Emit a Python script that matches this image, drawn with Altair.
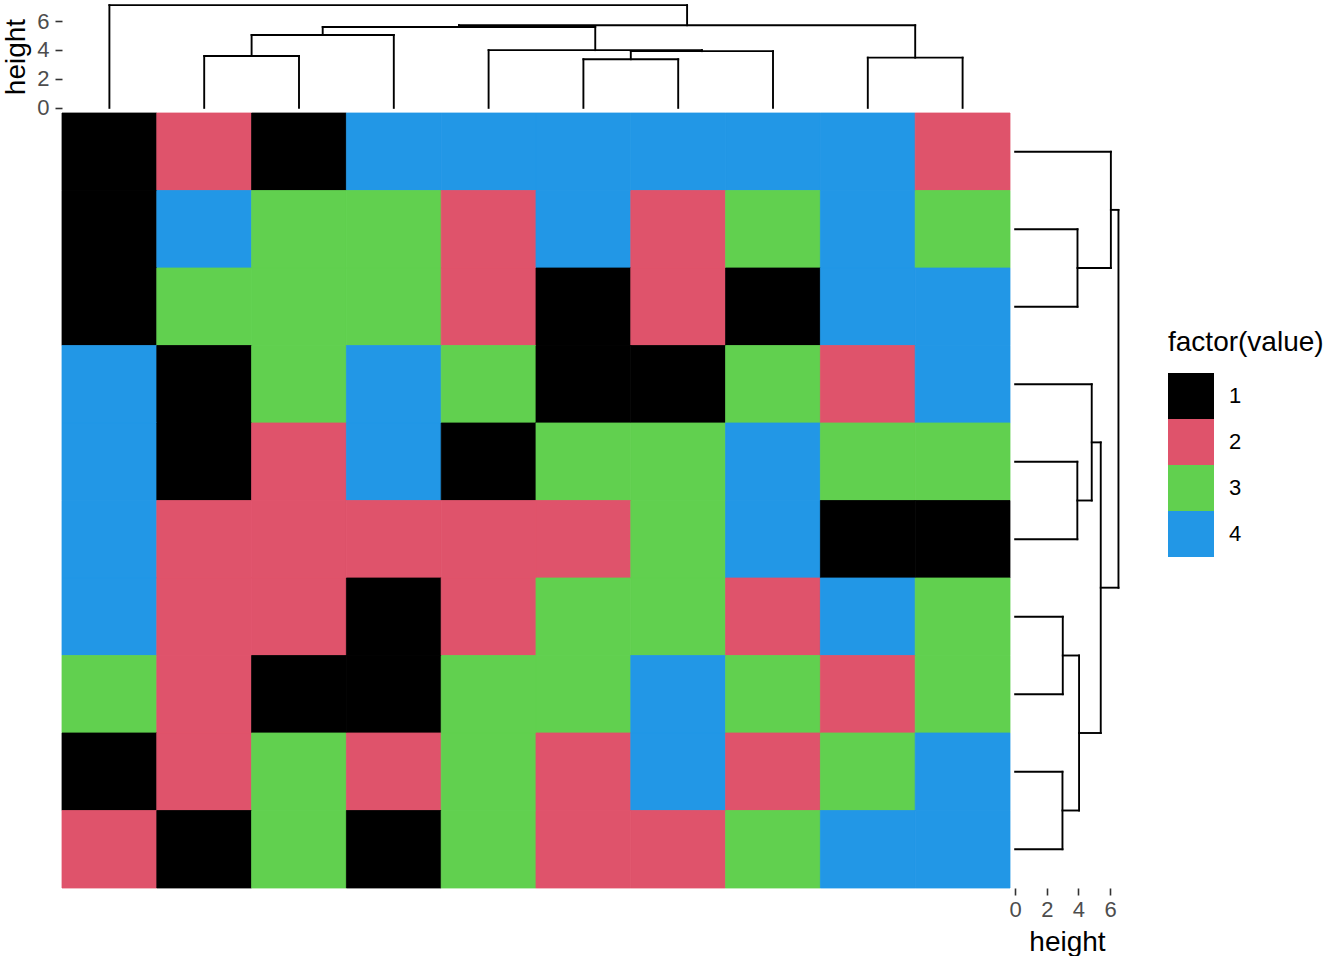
import altair as alt
import pandas as pd

# ---- data -------------------------------------------------------------
# heatmap values, rows listed top to bottom, columns left to right
grid = [
    [1, 2, 1, 4, 4, 4, 4, 4, 4, 2],
    [1, 4, 3, 3, 2, 4, 2, 3, 4, 3],
    [1, 3, 3, 3, 2, 1, 2, 1, 4, 4],
    [4, 1, 3, 4, 3, 1, 1, 3, 2, 4],
    [4, 1, 2, 4, 1, 3, 3, 4, 3, 3],
    [4, 2, 2, 2, 2, 2, 3, 4, 1, 1],
    [4, 2, 2, 1, 2, 3, 3, 2, 4, 3],
    [3, 2, 1, 1, 3, 3, 4, 3, 2, 3],
    [1, 2, 3, 2, 3, 2, 4, 2, 3, 4],
    [2, 1, 3, 1, 3, 2, 2, 3, 4, 4],
]
levels = ["1", "2", "3", "4"]
palette = ["#000000", "#DF536B", "#61D04F", "#2297E6"]

# hclust-style merges: negative = leaf position, positive = earlier merge (1-based)
col_merge = [[-2, -3], [1, -4], [-6, -7], [3, -8], [-5, 4], [2, 5], [-9, -10], [6, 7], [-1, 8]]
col_height = [3.58, 5.04, 3.36, 3.92, 3.99, 5.59, 3.47, 5.71, 7.10]

row_merge = [[-2, -3], [-1, 1], [-5, -6], [-4, 3], [-7, -8], [-9, -10], [5, 6], [4, 7], [2, 8]]
row_height = [3.94, 6.05, 3.93, 4.84, 3.01, 2.99, 4.04, 5.41, 6.53]

height_ticks = [0, 2, 4, 6]


def dendro_segments(merge, height):
    nodes = []
    segs = []

    def get(ref):
        if ref < 0:
            return (float(-ref), 0.0)
        return nodes[ref - 1]

    for (a, b), h in zip(merge, height):
        pa, ha = get(a)
        pb, hb = get(b)
        segs.append({"p": pa, "p2": pb, "h": h, "h2": h})
        segs.append({"p": pa, "p2": pa, "h": h, "h2": ha})
        segs.append({"p": pb, "p2": pb, "h": h, "h2": hb})
        nodes.append(((pa + pb) / 2.0, h))
    return pd.DataFrame(segs)


cells = pd.DataFrame(
    [
        {"col": c + 1, "row": r + 1, "value": str(v)}
        for r, line in enumerate(grid)
        for c, v in enumerate(line)
    ]
)
cells["c0"] = cells["col"] - 0.5
cells["c1"] = cells["col"] + 0.5
cells["r0"] = cells["row"] - 0.5
cells["r1"] = cells["row"] + 0.5

col_segs = dendro_segments(col_merge, col_height)
row_segs = dendro_segments(row_merge, row_height)

# ---- styling ----------------------------------------------------------
FONT = "Liberation Sans"
W, H = 948, 775
TOP_H = 113
RIGHT_W = 114
TITLE_FS = 28
LABEL_FS = 22

pos_scale = alt.Scale(domain=[0.5, 10.5], nice=False, zero=False)
row_scale = alt.Scale(domain=[0.5, 10.5], nice=False, zero=False, reverse=True)
color_scale = alt.Scale(domain=levels, range=palette)

hax = dict(
    values=height_ticks,
    title="height",
    grid=False,
    domain=False,
    ticks=True,
    tickSize=7,
    tickWidth=1.6,
    tickColor="#333333",
    labelColor="#4D4D4D",
    labelFont=FONT,
    labelFontSize=LABEL_FS,
    titleFont=FONT,
    titleFontSize=TITLE_FS,
    titleFontWeight="normal",
    titleColor="#000000",
)

top = (
    alt.Chart(col_segs)
    .mark_rule(color="#000000", strokeWidth=1.9, strokeCap="square")
    .encode(
        x=alt.X("p:Q", scale=pos_scale, axis=None),
        x2="p2:Q",
        y=alt.Y(
            "h:Q",
            scale=alt.Scale(domain=[-0.355, 7.455], nice=False, zero=False),
            axis=alt.Axis(orient="left", labelPadding=6, titlePadding=6, **hax),
        ),
        y2="h2:Q",
    )
    .properties(width=W, height=TOP_H)
)

heat = (
    alt.Chart(cells)
    .mark_rect(strokeWidth=0.8)
    .encode(
        x=alt.X("c0:Q", scale=pos_scale, axis=None),
        x2="c1:Q",
        y=alt.Y("r0:Q", scale=row_scale, axis=None),
        y2="r1:Q",
        stroke=alt.Stroke("value:N", scale=color_scale, legend=None),
        color=alt.Color(
            "value:N",
            scale=color_scale,
            legend=alt.Legend(
                title="factor(value)",
                orient="none",
                legendX=1106,
                legendY=329,
                symbolType="square",
                symbolSize=2116,
                symbolStrokeWidth=0,
                symbolOpacity=1,
                rowPadding=0,
                padding=0,
                labelOffset=15,
                labelFont=FONT,
                labelFontSize=LABEL_FS,
                labelColor="#000000",
                titleFont=FONT,
                titleFontSize=TITLE_FS,
                titleFontWeight="normal",
                titleColor="#000000",
                titlePadding=16,
            ),
        ),
    )
    .properties(width=W, height=H)
)

right = (
    alt.Chart(row_segs)
    .mark_rule(color="#000000", strokeWidth=1.9, strokeCap="square")
    .encode(
        y=alt.Y("p:Q", scale=row_scale, axis=None),
        y2="p2:Q",
        x=alt.X(
            "h:Q",
            scale=alt.Scale(domain=[-0.326, 6.88], nice=False, zero=False),
            axis=alt.Axis(orient="bottom", labelPadding=4.5, titlePadding=7.5, **hax),
        ),
        x2="h2:Q",
    )
    .properties(width=RIGHT_W, height=H)
)

chart = (
    alt.vconcat(
        top,
        alt.hconcat(heat, right, spacing=0, bounds="flush"),
        spacing=0,
        bounds="flush",
    )
    .configure_view(stroke=None)
    .properties(padding={"left": 2, "top": 0, "right": 0, "bottom": 0}, background="white")
)

chart.save("out.html", embed_options={"renderer": "svg", "actions": False})
